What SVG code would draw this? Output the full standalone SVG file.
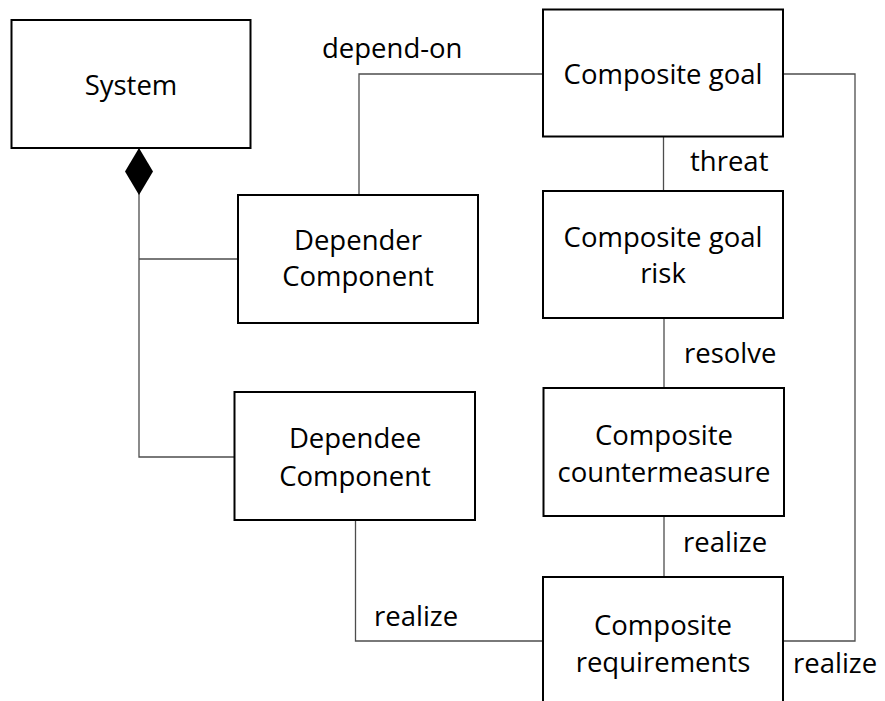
<svg xmlns="http://www.w3.org/2000/svg" width="885" height="701" viewBox="0 0 885 701">
  <style>
    .box { fill: #ffffff; stroke: #000000; stroke-width: 2; }
    .lbl { font-family: "Open Sans", "Noto Sans", "DejaVu Sans", sans-serif; font-size: 27.5px; fill: #000000; }
    .mid { text-anchor: middle; }
    .conn { fill: none; stroke: #4d4d4d; stroke-width: 1.3; }
  </style>
  <defs>
    <marker id="composition" markerUnits="userSpaceOnUse" markerWidth="48" markerHeight="30" refX="0" refY="14" orient="auto" viewBox="0 0 48 28">
      <polygon points="0,14 23.5,0 47,14 23.5,28" fill="#000000"/>
    </marker>
  </defs>

  <!-- connectors -->
  <g id="connectors">
    <path class="conn" d="M139,148 V457 H234" marker-start="url(#composition)"/>
    <path class="conn" d="M139,259 H238"/>
    <path class="conn" d="M359,195 V74 H543"/>
    <path class="conn" d="M663.5,137 V191"/>
    <path class="conn" d="M664,318 V388"/>
    <path class="conn" d="M664,516 V577"/>
    <path class="conn" d="M355.5,520 V641 H543"/>
    <path class="conn" d="M783,74 H855 V641 H783"/>
    <text class="lbl" x="322" y="58">depend-on</text>
    <text class="lbl" x="690" y="171">threat</text>
    <text class="lbl" x="684" y="363">resolve</text>
    <text class="lbl" x="683" y="552">realize</text>
    <text class="lbl" x="374" y="626">realize</text>
    <text class="lbl" x="793" y="673">realize</text>
  </g>

  <!-- nodes -->
  <g id="system">
    <rect class="box" x="11.5" y="20" width="239" height="128"/>
    <text class="lbl mid" x="131" y="95">System</text>
  </g>
  <g id="depender">
    <rect class="box" x="238" y="195" width="240" height="128"/>
    <text class="lbl mid" x="358" y="250">Depender</text>
    <text class="lbl mid" x="358" y="286">Component</text>
  </g>
  <g id="dependee">
    <rect class="box" x="234.5" y="392" width="240.5" height="128"/>
    <text class="lbl mid" x="355" y="448">Dependee</text>
    <text class="lbl mid" x="355" y="486">Component</text>
  </g>
  <g id="composite-goal">
    <rect class="box" x="543" y="9.5" width="240" height="127"/>
    <text class="lbl mid" x="663" y="84">Composite goal</text>
  </g>
  <g id="composite-goal-risk">
    <rect class="box" x="543" y="191" width="240" height="127"/>
    <text class="lbl mid" x="663" y="247">Composite goal</text>
    <text class="lbl mid" x="663" y="283">risk</text>
  </g>
  <g id="composite-countermeasure">
    <rect class="box" x="543.5" y="388" width="240.5" height="128"/>
    <text class="lbl mid" x="664" y="445">Composite</text>
    <text class="lbl mid" x="664" y="482">countermeasure</text>
  </g>
  <g id="composite-requirements">
    <rect class="box" x="543" y="577" width="240" height="140"/>
    <text class="lbl mid" x="663" y="635">Composite</text>
    <text class="lbl mid" x="663" y="672">requirements</text>
  </g>
</svg>
